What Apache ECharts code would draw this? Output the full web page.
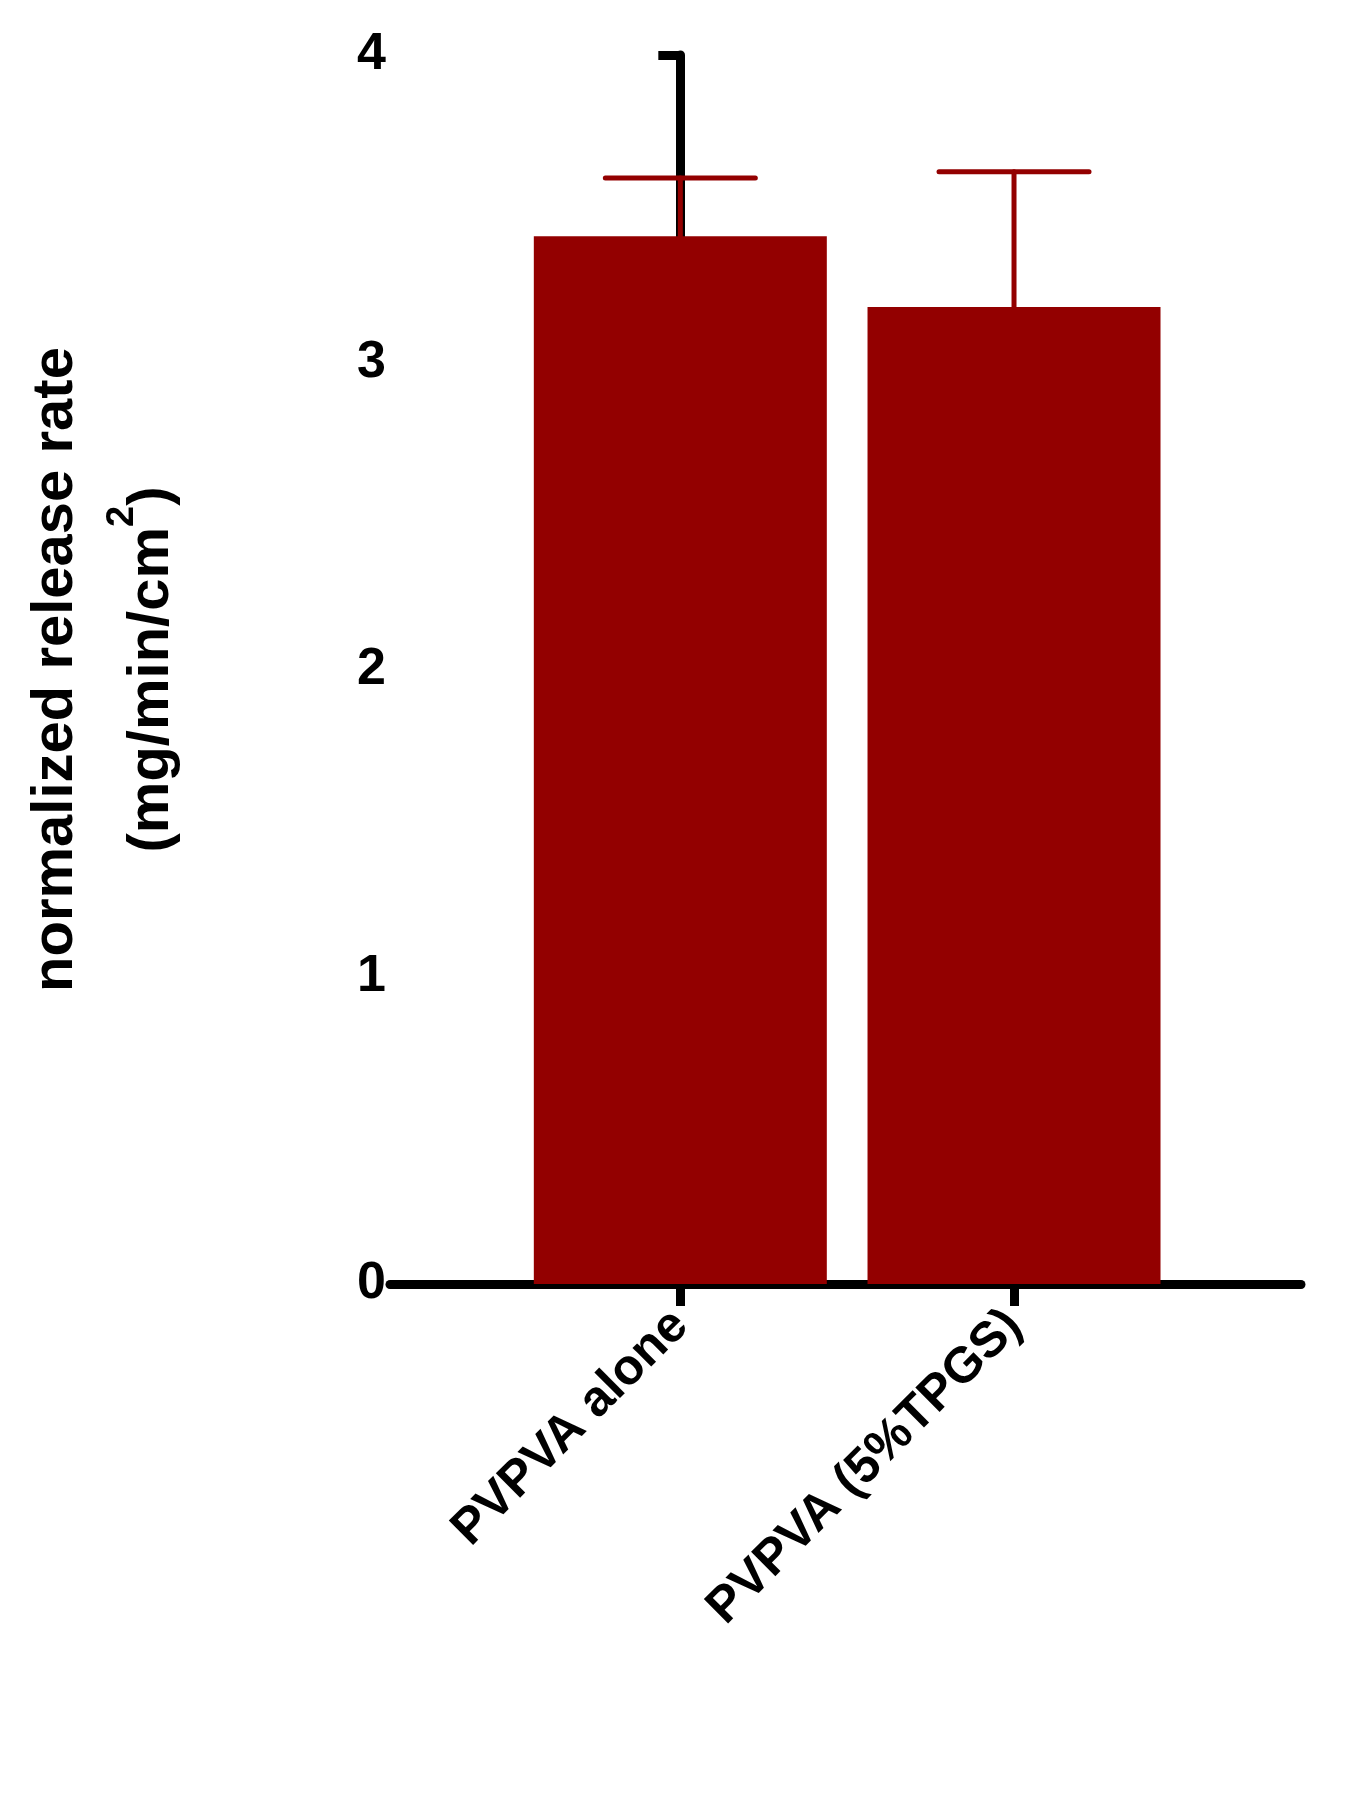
<!DOCTYPE html>
<html>
<head>
<meta charset="utf-8">
<script src="https://cdn.jsdelivr.net/npm/echarts@6/dist/echarts.min.js"></script>
<style>html,body{margin:0;background:#fff}#chart{width:1348px;height:1820px}</style>
</head>
<body>
<div id="chart"></div>
<script>
var categories = ['PVPVA alone', 'PVPVA (5%TPGS)'];
var means = [3.41, 3.18];
var errors = [0.19, 0.44];
var yTicks = [0, 1, 2, 3, 4];

var red = '#930000';
var font = '"Liberation Sans", Arial, sans-serif';
var chart = echarts.init(document.getElementById('chart'));

var barData = means.map(function (v, i) { return [i, v]; });
var errData = means.map(function (v, i) { return [i, v, v + errors[i]]; });

chart.setOption({
    backgroundColor: '#fff',
    animation: false,
    grid: { left: 372, right: 47, top: 55, bottom: 536 },
    xAxis: {
        type: 'value',
        min: -0.87, max: 1.86,
        splitLine: { show: false },
        axisLine: { onZero: false, lineStyle: { color: '#000', width: 9 } },
        axisTick: { show: true, customValues: [0, 1], length: 22, lineStyle: { color: '#000', width: 9 } },
        axisLabel: {
            customValues: [0, 1],
            rotate: 45, margin: 34,
            fontSize: 50, fontWeight: 'bold', fontFamily: font, color: '#000',
            formatter: function (v) { return categories[Math.round(v)]; }
        }
    },
    yAxis: {
        type: 'value',
        min: 0, max: 4, interval: 1,
        splitLine: { show: false },
        axisLine: { show: true, lineStyle: { color: '#000', width: 9 } },
        axisTick: { show: true, length: 22, lineStyle: { color: '#000', width: 9 } },
        axisLabel: { margin: 4, fontSize: 52, fontWeight: 'bold', fontFamily: font, color: '#000',
            formatter: function (v) { return yTicks.indexOf(v) >= 0 ? String(v) : ''; } },
        name: '{a|normalized release rate}\n{a|(mg/min/cm}{s|2}{a|)}',
        nameLocation: 'middle',
        nameGap: 190,
        nameRotate: 90,
        nameTextStyle: {
            lineHeight: 96,
            rich: {
                a: { fontSize: 58, fontWeight: 'bold', fontFamily: font, color: '#000', lineHeight: 96 },
                s: { fontSize: 38, fontWeight: 'bold', fontFamily: font, color: '#000', verticalAlign: 'top', lineHeight: 70 }
            }
        }
    },
    series: [
        {
            type: 'bar',
            data: barData,
            barWidth: 293,
            itemStyle: { color: red }
        },
        {
            type: 'custom',
            data: errData,
            z: 1,
            renderItem: function (params, api) {
                var base = api.coord([api.value(0), api.value(1)]);
                var top = api.coord([api.value(0), api.value(2)]);
                var hw = 75;
                var st = { stroke: red, lineWidth: 5, lineCap: 'round' };
                return {
                    type: 'group',
                    children: [
                        { type: 'line', shape: { x1: top[0], y1: base[1], x2: top[0], y2: top[1] }, style: st },
                        { type: 'line', shape: { x1: top[0] - hw, y1: top[1], x2: top[0] + hw, y2: top[1] }, style: st }
                    ]
                };
            }
        }
    ]
});
</script>
</body>
</html>
